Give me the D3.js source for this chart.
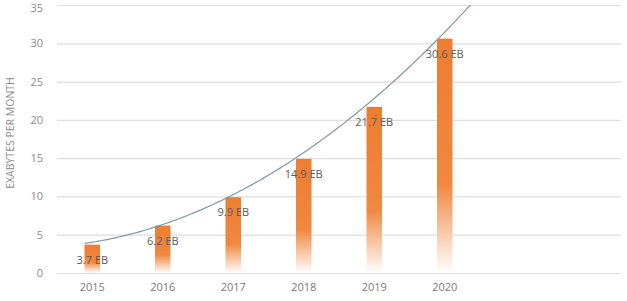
<!DOCTYPE html>
<html>
<head>
<meta charset="utf-8">
<script src="https://cdn.jsdelivr.net/npm/d3@7"></script>
<style>
  body { margin: 0; background: #fff; }
  svg text { font-family: "Open Sans", "Liberation Sans", sans-serif; }
</style>
</head>
<body>
<div id="chart"></div>
<script>
// data
const years   = ["2015", "2016", "2017", "2018", "2019", "2020"];
const traffic = [3.7, 6.2, 9.9, 14.9, 21.7, 30.6];   // exabytes per month
const yTicks  = [0, 5, 10, 15, 20, 25, 30, 35];
const SLOTS   = 8;   // category slots on the x axis, the last two stay empty

const WIDTH = 627, HEIGHT = 301;
const margin = {top: 5, right: 6, bottom: 28, left: 57},
      width  = WIDTH - margin.left - margin.right,
      height = HEIGHT - margin.top - margin.bottom;

const svg = d3.select("#chart")
              .append("svg")
                .attr("width", WIDTH)
                .attr("height", HEIGHT);

const defs = svg.append("defs");
const grad = defs.append("linearGradient")
                 .attr("id", "barFade")
                 .attr("x1", 0).attr("y1", 0)
                 .attr("x2", 0).attr("y2", 1);
grad.append("stop").attr("offset", 0).attr("stop-color", "#ED7D31");
grad.append("stop").attr("offset", 0.62).attr("stop-color", "#F08840");
grad.append("stop").attr("offset", 1).attr("stop-color", "#ffffff");

defs.append("clipPath").attr("id", "plotClip")
    .append("rect").attr("x", 0).attr("y", 0).attr("width", width).attr("height", height);

const g = svg.append("g")
             .attr("transform", `translate(${margin.left},${margin.top})`);

// scales
const x = d3.scaleBand()
            .domain(d3.range(SLOTS))
            .range([0, width])
            .paddingInner(0.78)
            .paddingOuter(0.39);

const y = d3.scaleLinear()
            .domain([0, 35])
            .range([height, 0]);

// grid lines + y labels
const yAxis = g.append("g")
               .call(d3.axisLeft(y).tickValues(yTicks).tickSize(-width).tickPadding(14));
yAxis.select(".domain").remove();
yAxis.selectAll(".tick line").attr("stroke", "#dedede").attr("stroke-width", 1.2);
yAxis.selectAll(".tick text")
     .attr("fill", "#8c8c8c")
     .style("font-size", "11px");
// top label sits at the very edge of the picture, nudge it down so it stays whole
yAxis.selectAll(".tick text").filter(d => d === 35).attr("dy", "0.62em");

// x labels
const xAxis = g.append("g")
               .attr("transform", `translate(0,${height})`)
               .call(d3.axisBottom(x).tickSize(0).tickPadding(10)
                       .tickFormat(i => years[i] || ""));
xAxis.select(".domain").remove();
xAxis.selectAll(".tick text")
     .attr("fill", "#7a7a7a")
     .style("font-size", "11px");

// bars
g.selectAll("rect.bar")
 .data(traffic)
 .join("rect")
   .attr("class", "bar")
   .attr("x", (d, i) => x(i))
   .attr("y", d => y(d))
   .attr("width", x.bandwidth())
   .attr("height", d => height - y(d))
   .attr("fill", "url(#barFade)");

// trendline: least-squares polynomial (order 2) through the bar values
const n = traffic.length;
const tMean = d3.mean(d3.range(n));
const ts = d3.range(n).map(i => i - tMean);
const s2 = d3.sum(ts, t => t * t), s4 = d3.sum(ts, t => t ** 4);
const sy = d3.sum(traffic), sty = d3.sum(ts, (t, i) => t * traffic[i]),
      st2y = d3.sum(ts, (t, i) => t * t * traffic[i]);
const b = sty / s2;
const c = (n * st2y - s2 * sy) / (n * s4 - s2 * s2);
const a = (sy - c * s2) / n;
const trend = u => a + b * (u - tMean) + c * (u - tMean) ** 2;

const trendPts = d3.range(0, 5.6, 0.05).map(u => [x(0) + u * x.step(), y(trend(u))]);
g.append("path")
 .datum(trendPts)
 .attr("clip-path", "url(#plotClip)")
 .attr("fill", "none")
 .attr("stroke", "#8198a8")
 .attr("stroke-width", 1.2)
 .attr("d", d3.line());

// value labels
g.selectAll("text.val")
 .data(traffic)
 .join("text")
   .attr("class", "val")
   .attr("x", (d, i) => x(i) + x.bandwidth() / 2)
   .attr("y", d => y(d) + 19)
   .attr("text-anchor", "middle")
   .attr("fill", "#5a5a5a")
   .style("font-size", "11px")
   .text(d => d + " EB");

// y title
svg.append("text")
   .attr("transform", `translate(14,${margin.top + 128}) rotate(-90)`)
   .attr("text-anchor", "middle")
   .attr("fill", "#8c8c8c")
   .style("font-size", "10.5px")
   .text("EXABYTES PER MONTH");
</script>
</body>
</html>
